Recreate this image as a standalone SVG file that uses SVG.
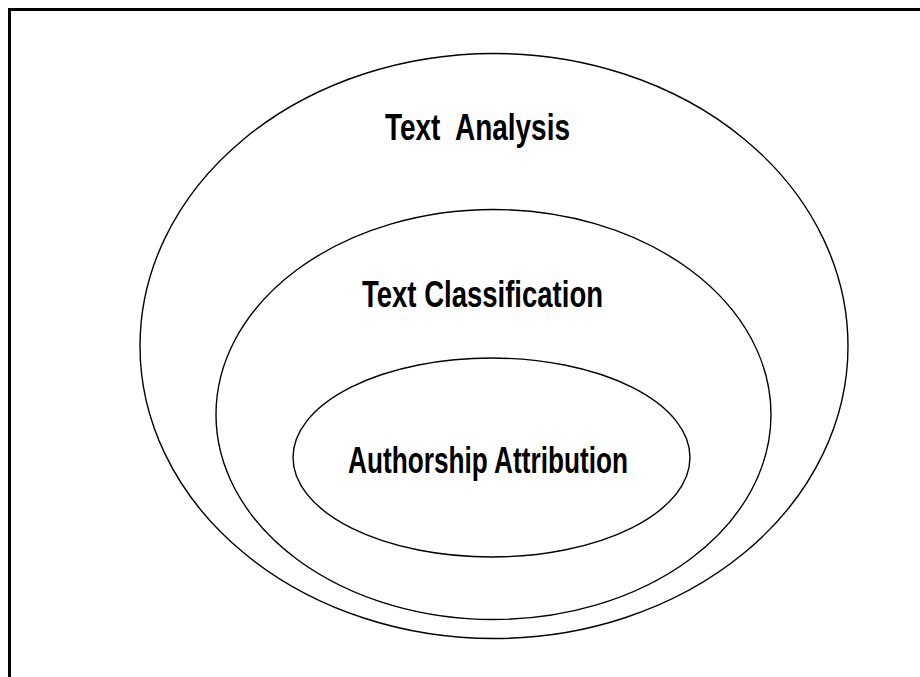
<svg xmlns="http://www.w3.org/2000/svg" width="920" height="677" viewBox="0 0 920 677">
<style>
.ring{fill:none;stroke:#000;stroke-width:1.4}
.lbl{font-family:"Liberation Sans Narrow","Liberation Sans",Arial,sans-serif;font-weight:bold;font-size:37px;fill:#000}
</style>
<rect x="0" y="0" width="920" height="677" fill="#fff"/>
<rect x="9.5" y="9.5" width="930" height="700" fill="none" stroke="#000" stroke-width="3"/>
<g id="text-analysis">
<ellipse class="ring" cx="494" cy="346" rx="354" ry="292.5"/>
<text class="lbl" x="385" y="140" textLength="185" lengthAdjust="spacingAndGlyphs" xml:space="preserve">Text  Analysis</text>
</g>
<g id="text-classification">
<ellipse class="ring" cx="493.5" cy="414.5" rx="277.5" ry="205"/>
<text class="lbl" x="362" y="307" textLength="241" lengthAdjust="spacingAndGlyphs">Text Classification</text>
</g>
<g id="authorship-attribution">
<ellipse class="ring" cx="491.5" cy="457.5" rx="198.5" ry="99.5"/>
<text class="lbl" x="348" y="473" textLength="280" lengthAdjust="spacingAndGlyphs">Authorship Attribution</text>
</g>
<g id="connectors"/>
</svg>
